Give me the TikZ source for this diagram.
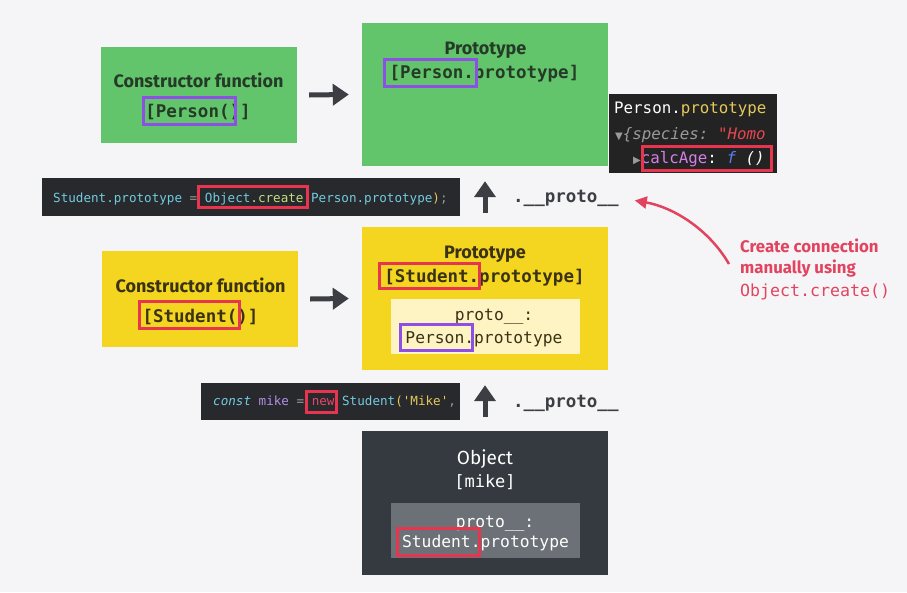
\documentclass[tikz,border=0pt]{standalone}
\usepackage{fontspec}
\setmainfont{Fira Sans}
\setmonofont{DejaVu Sans Mono}
\newfontfamily\symfont{DejaVu Sans}
\usetikzlibrary{arrows.meta,positioning}

\definecolor{bg}{HTML}{F5F5F7}
\definecolor{jsgreen}{HTML}{63C56B}
\definecolor{jsyellow}{HTML}{F4D51F}
\definecolor{lightyellow}{HTML}{FDF3C3}
\definecolor{objdark}{HTML}{343A40}
\definecolor{objgray}{HTML}{6B7177}
\definecolor{codebg}{HTML}{27292C}
\definecolor{consolebg}{HTML}{232323}
\definecolor{hlpurple}{HTML}{8E4FE6}
\definecolor{hlred}{HTML}{E8354F}
\definecolor{notered}{HTML}{E2435E}
\definecolor{arrowgray}{HTML}{3C3E43}
\definecolor{inkgreen}{HTML}{263A28}
\definecolor{inkyellow}{HTML}{3A3216}
\definecolor{cdcyan}{HTML}{72CCE0}
\definecolor{cdlime}{HTML}{C5DE7E}
\definecolor{cdyellow}{HTML}{E5C85A}
\definecolor{cdpurple}{HTML}{B48CE8}
\definecolor{cdpink}{HTML}{E8476A}
\definecolor{cdgray}{HTML}{9A9A9A}
\definecolor{cdmagenta}{HTML}{D77EE6}
\definecolor{cdblue}{HTML}{5A7EF0}
\definecolor{conred}{HTML}{E8454F}

\begin{document}
\begin{tikzpicture}[x=1pt,y=-1pt,
	ctorbox/.style={minimum width=196pt,minimum height=96pt,inner sep=0pt},
	protobox/.style={minimum width=246pt,minimum height=143pt,inner sep=0pt},
	slotbox/.style={minimum width=189pt,minimum height=55pt,inner sep=0pt},
	codebox/.style={fill=codebg,minimum height=38pt,inner sep=0pt},
	headtxt/.style={anchor=base,inner sep=0pt,font=\bfseries\fontsize{18}{21}\selectfont},
	nametxt/.style={anchor=base,inner sep=0pt,font=\ttfamily\bfseries\fontsize{17.5}{20}\selectfont},
	slottxt/.style={anchor=base,inner sep=0pt,font=\ttfamily\fontsize{16.3}{19}\selectfont},
	codetxt/.style={anchor=base west,inner sep=0pt,font=\ttfamily\fontsize{12.6}{15}\selectfont},
	contxt/.style={anchor=base west,inner sep=0pt,font=\ttfamily\fontsize{15.8}{18}\selectfont},
	protolbl/.style={anchor=base west,inner sep=0pt,text=arrowgray,font=\ttfamily\bfseries\fontsize{17.5}{20}\selectfont},
	notetxt/.style={anchor=base west,inner sep=0pt,text=notered,font=\bfseries\fontsize{16.8}{19}\selectfont},
	fatarrow/.style={draw=arrowgray,line width=5pt,-{Triangle[length=16pt,width=21pt]}},
	notearrow/.style={draw=notered,line width=2.5pt,-{Triangle[length=12pt,width=12pt]}},
	hl/.style={draw=#1,line width=3.5pt}]
	\useasboundingbox (0,0) rectangle (907,592);
	\fill[bg] (0,0) rectangle (907,592);

	% boxes
	\node[ctorbox,fill=jsgreen] (ctorP) at (199,95) {};
	\node[protobox,fill=jsgreen] (protoP) at (485,94.5) {};
	\node[minimum width=168pt,minimum height=79pt,inner sep=0pt,fill=consolebg] (console) at (693,133.5) {};
	\node[codebox,minimum width=418pt] (code1) at (251,197) {};
	\node[ctorbox,fill=jsyellow] (ctorS) at (200,299) {};
	\node[protobox,fill=jsyellow] (protoS) at (485,298.5) {};
	\node[slotbox,fill=lightyellow] (slotS) at (485.5,326.5) {};
	\node[codebox,minimum width=259pt,minimum height=37pt] (code2) at (330.5,401.5) {};
	\node[protobox,minimum height=144pt,fill=objdark] (mike) at (485,503) {};
	\node[slotbox,fill=objgray] (slotM) at (485.5,530.5) {};

	% Person
	\node[headtxt,text=inkgreen] at (198.5,87) {Constructor function};
	\node[nametxt,text=inkgreen] at (198,117) {[Person()]};
	\node[headtxt,text=inkgreen] at (485.5,54) {Prototype};
	\node[nametxt,text=inkgreen] at (484.5,78) {[Person.prototype]};
	\node[contxt] at (614,113) {\textcolor{white}{Person.}\textcolor{cdyellow}{prototype}};
	\node[contxt] at (615,139) {{\symfont\fontsize{10}{12}\selectfont\textcolor{cdgray}{▼}}\textcolor{cdgray}{\itshape\{species: }\textcolor{conred}{\itshape"Homo}};
	\node[contxt] at (633,163) {{\symfont\fontsize{10}{12}\selectfont\textcolor{cdgray}{▶}}\textcolor{cdmagenta}{calcAge}\textcolor{white}{: }\textcolor{cdblue}{\itshape f}\textcolor{white}{\itshape\ ()}};
	\node[codetxt] at (53,202) {\textcolor{cdcyan}{Student.prototype} \textcolor{cdgray}{=} \textcolor{cdcyan}{Object}\textcolor{cdlime}{.create}\textcolor{cdgray}{(}\textcolor{cdcyan}{Person.prototype}\textcolor{cdyellow}{)}\textcolor{cdgray}{;}};

	% Student
	\node[headtxt,text=inkyellow] at (200.5,292) {Constructor function};
	\node[nametxt,text=inkyellow] at (200.5,322) {[Student()]};
	\node[headtxt,text=inkyellow] at (485,258) {Prototype};
	\node[nametxt,text=inkyellow] at (484.5,282) {[Student.prototype]};
	\node[slottxt,text=inkyellow] at (494,320) {proto\_\_:};
	\node[slottxt,text=inkyellow] at (484,343) {Person.prototype};
	\node[codetxt] at (213,405) {\textcolor{cdcyan}{\itshape const} \textcolor{cdpurple}{mike} \textcolor{cdgray}{=} \textcolor{cdpink}{new} \textcolor{cdcyan}{Student}\textcolor{cdyellow}{('Mike'}\textcolor{cdgray}{,}};

	% mike
	\node[headtxt,font=\fontsize{19}{22}\selectfont,text=white] at (485,464) {Object};
	\node[slottxt,font=\ttfamily\fontsize{17}{20}\selectfont,text=white] at (485,487) {[mike]};
	\node[slottxt,text=white] at (495,527) {proto\_\_:};
	\node[slottxt,text=white] at (485.5,547) {Student.prototype};

	% links
	\draw[fatarrow] ([xshift=12pt]ctorP.east) -- ([xshift=-13pt]protoP.west);
	\draw[fatarrow] ([xshift=12pt]ctorS.east) -- ([xshift=-13pt]protoS.west);
	\draw[fatarrow] ([yshift=14pt]protoS.north) -- ([yshift=-15pt]protoP.south);
	\draw[fatarrow] ([yshift=14pt]mike.north) -- ([yshift=-15pt]protoS.south);
	\node[protolbl] (up1) at (513,202) {.\_\_proto\_\_};
	\node[protolbl] (up2) at (513,407) {.\_\_proto\_\_};

	% note
	\node[notetxt] (note1) at (740,252) {Create connection};
	\node[notetxt] (note2) at (740,273) {manually using};
	\node[notetxt,font=\ttfamily\fontsize{16.6}{19}\selectfont] (note3) at (740,296) {Object.create()};
	\coordinate (notetail) at (729,264);
	\draw[notearrow] (notetail) .. controls (708,228) and (672,207) .. ([xshift=16pt,yshift=-2.5pt]up1.east);

	% highlights
	\foreach \xa/\ya/\xb/\yb/\c in {143.5/97.5/235.5/124.5/hlpurple,384.5/59.5/476.5/86.5/hlpurple,
		642.5/146.5/771.5/170.5/hlred,198.5/186.5/307.5/207.5/hlred,139.5/301.5/239.5/328.5/hlred,
		379.5/263.5/479.5/288.5/hlred,400.5/324.5/472.5/350.5/hlpurple,306.5/391.5/336.5/412.5/hlred,
		397.5/528.5/479.5/555.5/hlred}
		\draw[hl=\c] (\xa,\ya) rectangle (\xb,\yb);
\end{tikzpicture}
\end{document}
